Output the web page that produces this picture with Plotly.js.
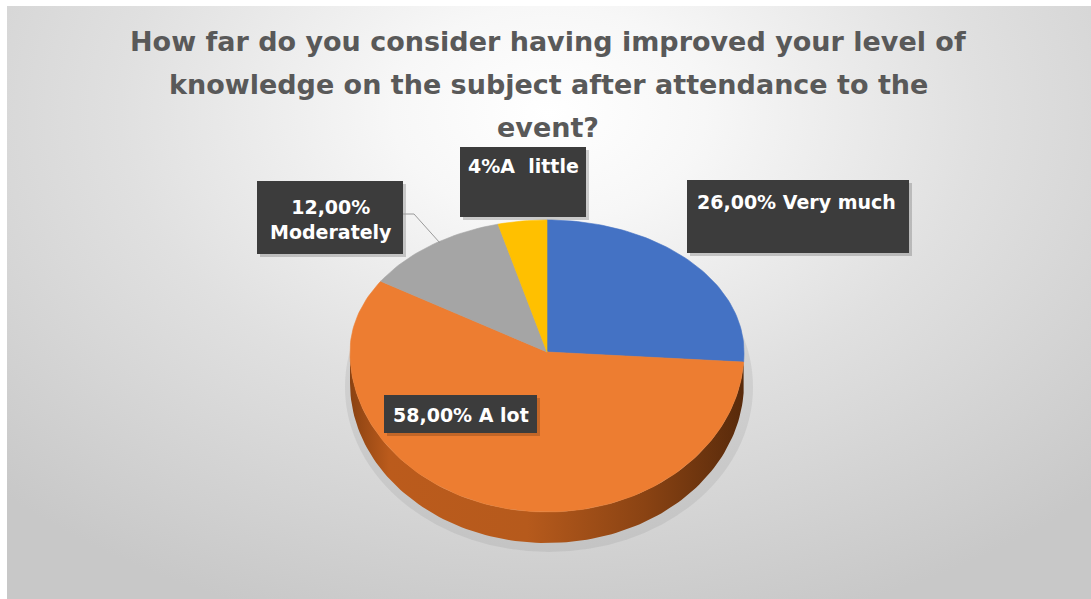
<!DOCTYPE html>
<html>
<head>
<meta charset="utf-8">
<script src="https://cdn.plot.ly/plotly-3.0.1.min.js"></script>
<style>
  html, body { margin: 0; padding: 0; background: #ffffff; }
  #wrap { position: relative; width: 1091px; height: 599px; background: #ffffff; }
  #bg { position: absolute; left: 7px; top: 6px; width: 1084px; height: 593px;
        background: radial-gradient(ellipse 72% 90% at 50% 18%, #ffffff 0%, #f7f7f7 20%, #e0e0e0 55%, #c8c8c8 100%); }
  #chart { position: absolute; left: 0; top: 0; width: 1091px; height: 599px; }
</style>
</head>
<body>
<div id="wrap"><div id="bg"></div><div id="chart"></div></div>
<script>
// ---- data ----
const categories = ['Very much', 'A lot', 'Moderately', 'A little'];
const values = [26, 58, 12, 4];
const labelTexts = ['26,00% Very much', '58,00% A lot', '12,00%<br>Moderately', '4%A\u00a0 little'];
const sliceColors = ['#4472C4', '#ED7D31', '#A5A5A5', '#FFC000'];
const titleLines = ['How far do you consider having improved your level of',
                    'knowledge on the subject after attendance to the',
                    'event?'];

// ---- pie geometry (pixel-mapped axes, simple perspective: back half flatter) ----
const cx = 547, cy = 352, rx = 197, ryBack = 132, ryFront = 160, depth = 31;
const total = values.reduce((a, b) => a + b, 0);
function pt(deg, dy) {
  const t = deg * Math.PI / 180;
  const c = Math.cos(t);
  const ry = c > 0 ? ryBack : ryFront;
  return [cx + rx * Math.sin(t), cy - ry * c + dy];
}
function arc(a, b, dy) {
  const n = Math.max(2, Math.ceil(Math.abs(b - a) / 1.5));
  const out = [];
  for (let i = 0; i <= n; i++) out.push(pt(a + (b - a) * i / n, dy));
  return out;
}
const traces = [];
const sideTraces = [];
let start = 0;
const sideColorscales = {
  1: [[0, '#8a4212'], [0.1, '#bb5b1c'], [0.45, '#b65a1c'], [0.75, '#8a4313'], [1, '#582a0b']],
  0: [[0, '#2c4a80'], [1, '#2c4a80']]
};
values.forEach((v, i) => {
  const end = start + v / total * 360;
  const a = Math.max(start, 90), b = Math.min(end, 270);
  if (b > a) {
    const top = arc(a, b, 0);
    const bot = arc(b, a, depth);
    const poly = top.concat(bot);
    poly.push(top[0]);
    sideTraces.push({
      type: 'scatter', mode: 'lines', x: poly.map(p => p[0]), y: poly.map(p => p[1]),
      fill: 'toself', line: { width: 0, color: 'rgba(0,0,0,0)' },
      fillcolor: i === 1 ? '#a9521a' : '#2f4f86',
      fillgradient: { type: 'horizontal', colorscale: sideColorscales[i] || [[0, '#555'], [1, '#555']] },
      hoverinfo: 'skip', showlegend: false
    });
  }
  const face = [[cx, cy]].concat(arc(start, end, 0));
  face.push([cx, cy]);
  traces.push({
    type: 'scatter', mode: 'lines', x: face.map(p => p[0]), y: face.map(p => p[1]),
    fill: 'toself', fillcolor: sliceColors[i], line: { width: 0.6, color: sliceColors[i] },
    name: categories[i], text: labelTexts[i], hoverinfo: 'name', showlegend: false
  });
  start = end;
});

// ---- label boxes ----
const boxes = [
  { x0: 687, x1: 909, y0: 180, y1: 253, tx: 796, ty: 202 },   // Very much
  { x0: 384, x1: 537, y0: 395, y1: 433, tx: 461, ty: 415 },   // A lot
  { x0: 257, x1: 403, y0: 181, y1: 254, tx: 331, ty: 219 },   // Moderately
  { x0: 460, x1: 586, y0: 147, y1: 217, tx: 523, ty: 166 }    // A little
];
const shapes = [];
shapes.push({ type: 'circle', xref: 'x', yref: 'y', layer: 'below',
  x0: cx - rx - 5, x1: cx + rx + 9, y0: cy - ryBack + 2, y1: cy + ryFront + depth + 9,
  fillcolor: 'rgba(120,120,120,0.15)', line: { width: 0 } });
boxes.forEach(bx => {
  shapes.push({ type: 'rect', xref: 'x', yref: 'y', layer: 'above',
    x0: bx.x0 + 3, x1: bx.x1 + 3, y0: bx.y0 + 3, y1: bx.y1 + 3,
    fillcolor: 'rgba(0,0,0,0.18)', line: { width: 0 } });
  shapes.push({ type: 'rect', xref: 'x', yref: 'y', layer: 'above',
    x0: bx.x0, x1: bx.x1, y0: bx.y0, y1: bx.y1,
    fillcolor: '#3c3c3c', line: { width: 0 } });
});
shapes.push({ type: 'path', xref: 'x', yref: 'y', layer: 'above',
  path: 'M 403 214 L 414 214 L 440 243', line: { color: '#9a9a9a', width: 1 } });

const annotations = boxes.map((bx, i) => ({
  x: bx.tx, y: bx.ty, xref: 'x', yref: 'y', text: '<b>' + labelTexts[i] + '</b>',
  showarrow: false, xanchor: 'center', yanchor: 'middle',
  font: { family: '"DejaVu Sans", sans-serif', size: 19, color: '#ffffff' }
}));
const titleY = [41, 84, 127];
titleLines.forEach((t, k) => {
  annotations.push({
    x: 548, y: titleY[k], xref: 'x', yref: 'y', text: '<b>' + t + '</b>',
    showarrow: false, xanchor: 'center', yanchor: 'middle',
    font: { family: '"DejaVu Sans", sans-serif', size: 27, color: '#595959' }
  });
});

const layout = {
  width: 1091, height: 599,
  margin: { l: 0, r: 0, t: 0, b: 0 },
  paper_bgcolor: 'rgba(0,0,0,0)', plot_bgcolor: 'rgba(0,0,0,0)',
  xaxis: { range: [0, 1091], visible: false, fixedrange: true },
  yaxis: { range: [599, 0], visible: false, fixedrange: true },
  shapes: shapes,
  annotations: annotations,
  showlegend: false
};

Plotly.newPlot('chart', sideTraces.concat(traces), layout, { displayModeBar: false, staticPlot: true });
</script>
</body>
</html>
